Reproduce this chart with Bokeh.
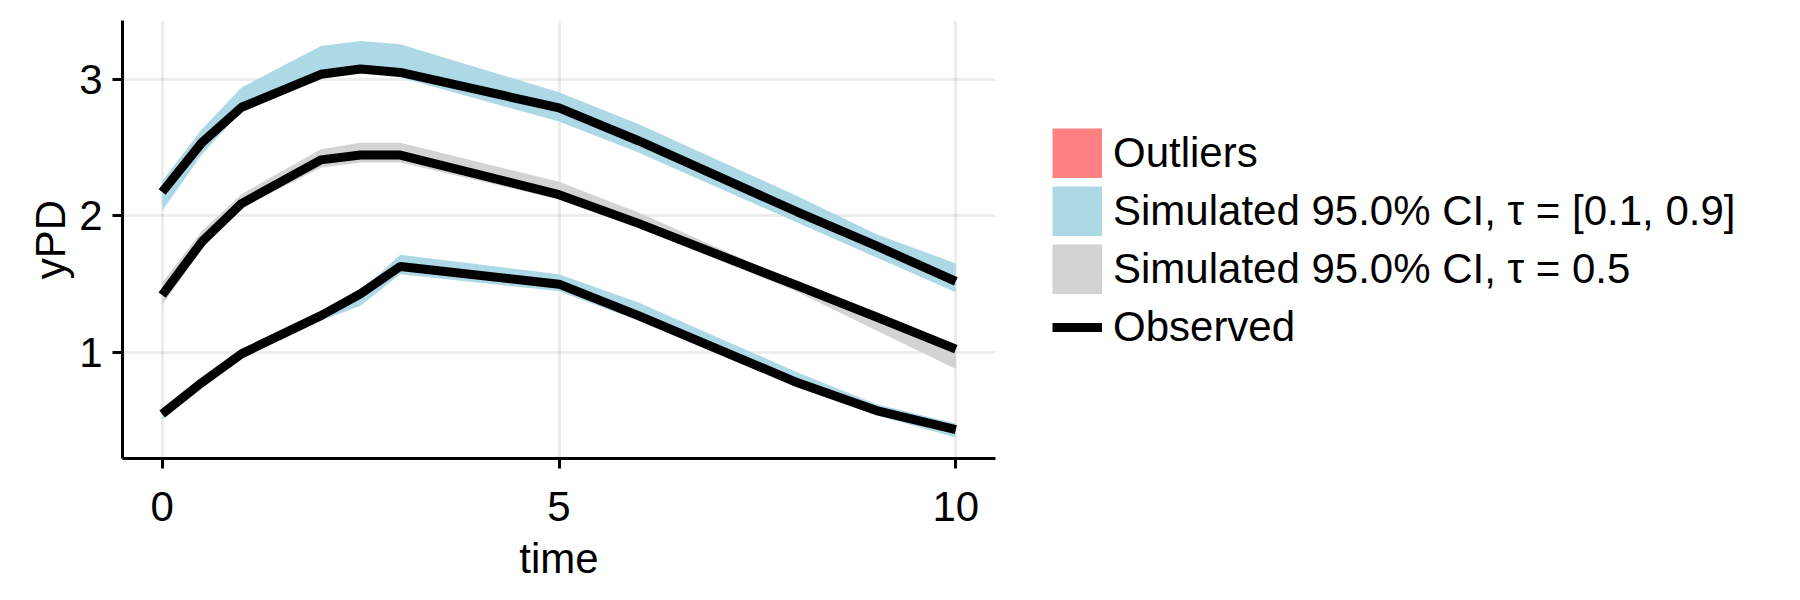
from bokeh.plotting import figure
from bokeh.models import Range1d, FixedTicker, Legend, LegendItem
from bokeh.embed import file_html
from bokeh.resources import INLINE

# ---- data ----
time = [0, 0.5, 1, 2, 2.5, 3, 5, 6, 8, 9, 10]

obs_q10 = [0.55, 0.78, 0.99, 1.27, 1.43, 1.63, 1.50, 1.27, 0.78, 0.575, 0.435]
obs_q50 = [1.42, 1.81, 2.09, 2.41, 2.445, 2.445, 2.155, 1.945, 1.49, 1.26, 1.025]
obs_q90 = [2.175, 2.536, 2.795, 3.036, 3.075, 3.05, 2.79, 2.55, 2.03, 1.78, 1.52]

sim_q10_lo = [0.51, 0.756, 0.965, 1.232, 1.342, 1.573, 1.448, 1.232, 0.744, 0.54, 0.378]
sim_q10_hi = [0.57, 0.817, 1.03, 1.30, 1.45, 1.715, 1.573, 1.366, 0.856, 0.622, 0.48]

sim_q50_lo = [1.345, 1.76, 2.06, 2.353, 2.39, 2.39, 2.12, 1.914, 1.445, 1.16, 0.88]
sim_q50_hi = [1.51, 1.89, 2.159, 2.488, 2.536, 2.536, 2.25, 2.024, 1.51, 1.275, 1.05]

sim_q90_lo = [2.037, 2.45, 2.765, 3.01, 3.06, 3.012, 2.69, 2.463, 1.951, 1.695, 1.44]
sim_q90_hi = [2.256, 2.634, 2.94, 3.244, 3.28, 3.256, 2.905, 2.672, 2.146, 1.866, 1.652]

# no outliers are flagged in this data set
outlier_time = [float("nan")]
outlier_val = [float("nan")]

x_ticks = [0, 5, 10]
y_ticks = [1, 2, 3]

labels = ["Outliers", "Simulated 95.0% CI, τ = [0.1, 0.9]",
          "Simulated 95.0% CI, τ = 0.5", "Observed"]

FONT = "Liberation Sans"
FS = "42px"
C_OUT = "#FF8080"
C_BLUE = "#ADD8E6"
C_GREY = "#D3D3D3"

p = figure(frame_width=873, frame_height=438, output_backend="svg", toolbar_location=None,
           x_range=Range1d(-0.5, 10.5), y_range=Range1d(0.224, 3.43),
           min_border_left=122, min_border_right=0,
           min_border_top=20, min_border_bottom=126)
p.outline_line_color = None
p.background_fill_color = "white"
p.border_fill_color = "white"

# outliers (none present) -- drawn as patches so the legend swatch fills the box
r_out = p.patch(x=outlier_time, y=outlier_val, fill_color=C_OUT,
                line_color=C_OUT, line_width=10, line_join="miter")

p.varea(x=time, y1=sim_q10_lo, y2=sim_q10_hi, fill_color=C_BLUE)
p.varea(x=time, y1=sim_q90_lo, y2=sim_q90_hi, fill_color=C_BLUE)
p.varea(x=time, y1=sim_q50_lo, y2=sim_q50_hi, fill_color=C_GREY)

# legend swatches for the bands (no data of their own)
sw_blue = p.patch(x=outlier_time, y=outlier_val, fill_color=C_BLUE,
                  line_color=C_BLUE, line_width=10, line_join="miter")
sw_grey = p.patch(x=outlier_time, y=outlier_val, fill_color=C_GREY,
                  line_color=C_GREY, line_width=10, line_join="miter")

p.line(time, obs_q10, line_color="black", line_width=9)
p.line(time, obs_q50, line_color="black", line_width=9)
r_l3 = p.line(time, obs_q90, line_color="black", line_width=9)

# axes
p.xaxis.ticker = FixedTicker(ticks=x_ticks)
p.yaxis.ticker = FixedTicker(ticks=y_ticks)
p.xaxis.axis_label = "time"
p.yaxis.axis_label = "yPD"
for ax in (p.xaxis[0], p.yaxis[0]):
    ax.axis_line_width = 3
    ax.axis_line_color = "black"
    ax.major_tick_line_width = 3
    ax.major_tick_line_color = "black"
    ax.major_tick_out = 10
    ax.major_tick_in = 0
    ax.minor_tick_line_color = None
    ax.major_label_text_font = FONT
    ax.major_label_text_font_size = FS
    ax.major_label_text_color = "black"
    ax.axis_label_text_font = FONT
    ax.axis_label_text_font_size = FS
    ax.axis_label_text_font_style = "normal"
    ax.axis_label_text_color = "black"
p.xaxis.major_label_standoff = 23
p.yaxis.major_label_standoff = 10
p.xaxis.axis_label_standoff = 11
p.yaxis.axis_label_standoff = 2

for g in (p.xgrid[0], p.ygrid[0]):
    g.grid_line_color = "black"
    g.grid_line_alpha = 0.07
    g.grid_line_width = 3

legend = Legend(items=[
    LegendItem(label=labels[0], renderers=[r_out]),
    LegendItem(label=labels[1], renderers=[sw_blue]),
    LegendItem(label=labels[2], renderers=[sw_grey]),
    LegendItem(label=labels[3], renderers=[r_l3]),
], location=(57, 106))
legend.glyph_width = 50
legend.glyph_height = 50
legend.label_height = 50
legend.spacing = 8
legend.padding = 0
legend.margin = 0
legend.label_standoff = 11
legend.border_line_color = None
legend.background_fill_alpha = 0
legend.label_text_font = FONT
legend.label_text_font_size = FS
legend.label_text_color = "black"
p.add_layout(legend, "right")

open("out.html", "w").write(file_html(p, INLINE))
